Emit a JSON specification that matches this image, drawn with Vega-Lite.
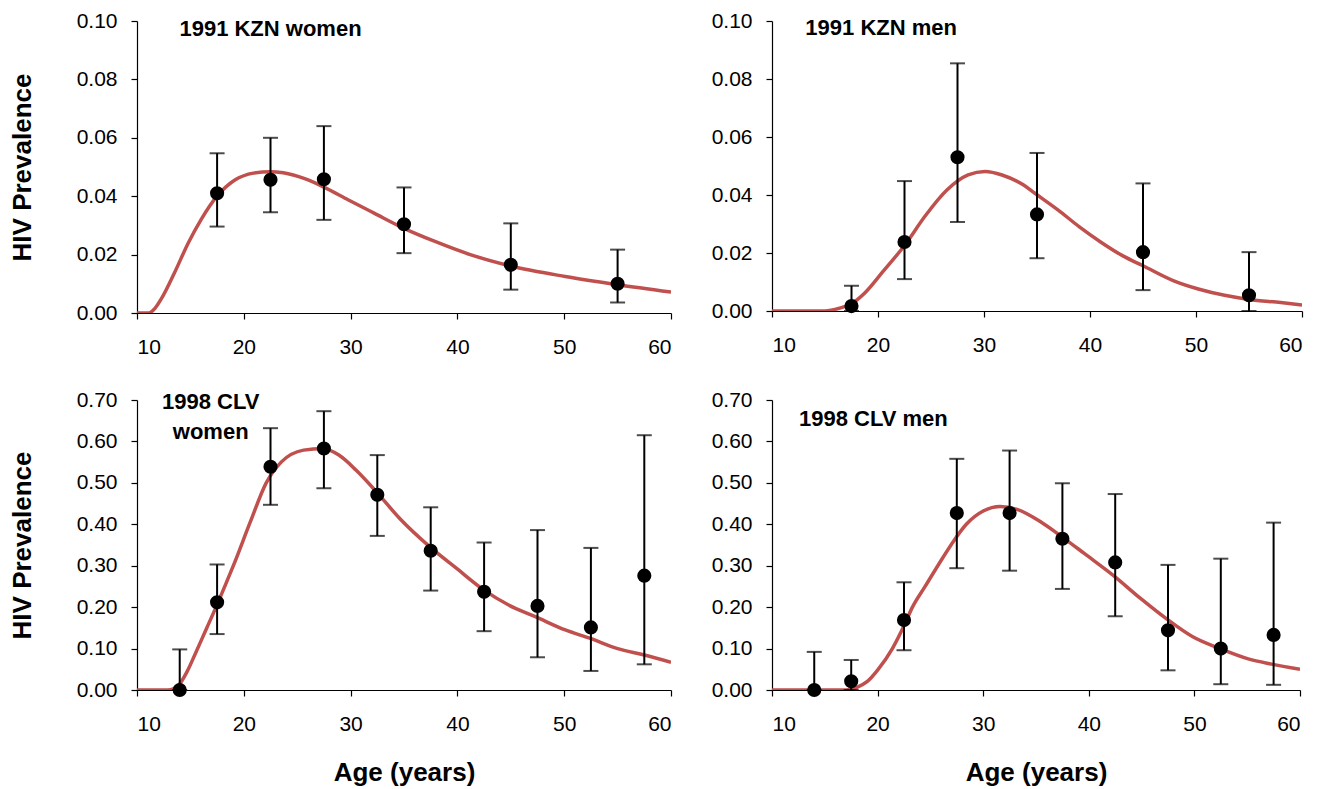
{
  "$schema": "https://vega.github.io/schema/vega-lite/v6.json",
  "padding": {"left": 9, "top": 10, "right": 5, "bottom": 3},
  "background": "white",
  "datasets": {
    "curve": [
      {"panel": "A", "age": 10, "prev": 0}, {"panel": "A", "age": 11.1, "prev": 0}, {"panel": "A", "age": 11.7, "prev": 0.0017}, {"panel": "A", "age": 12.3, "prev": 0.005}, {"panel": "A", "age": 13.5, "prev": 0.0137}, {"panel": "A", "age": 14.8, "prev": 0.024}, {"panel": "A", "age": 16, "prev": 0.032}, {"panel": "A", "age": 17.5, "prev": 0.04}, {"panel": "A", "age": 19.2, "prev": 0.0456}, {"panel": "A", "age": 20.9, "prev": 0.0479}, {"panel": "A", "age": 22.5, "prev": 0.0484}, {"panel": "A", "age": 23.7, "prev": 0.048}, {"panel": "A", "age": 25.7, "prev": 0.046}, {"panel": "A", "age": 27.4, "prev": 0.0433}, {"panel": "A", "age": 29.8, "prev": 0.0387}, {"panel": "A", "age": 32.2, "prev": 0.0342}, {"panel": "A", "age": 35, "prev": 0.029}, {"panel": "A", "age": 37.9, "prev": 0.0245}, {"panel": "A", "age": 41.2, "prev": 0.02}, {"panel": "A", "age": 45.1, "prev": 0.016}, {"panel": "A", "age": 50.1, "prev": 0.0125}, {"panel": "A", "age": 55, "prev": 0.0097}, {"panel": "A", "age": 60, "prev": 0.0072},
      {"panel": "B", "age": 10, "prev": 0}, {"panel": "B", "age": 15, "prev": 0}, {"panel": "B", "age": 16.4, "prev": 0.001}, {"panel": "B", "age": 17.4, "prev": 0.0023}, {"panel": "B", "age": 18.8, "prev": 0.0064}, {"panel": "B", "age": 20.4, "prev": 0.0133}, {"panel": "B", "age": 22.5, "prev": 0.0226}, {"panel": "B", "age": 24.5, "prev": 0.033}, {"panel": "B", "age": 26.5, "prev": 0.0417}, {"panel": "B", "age": 28.5, "prev": 0.0469}, {"panel": "B", "age": 30.1, "prev": 0.0481}, {"panel": "B", "age": 31.7, "prev": 0.0469}, {"panel": "B", "age": 33.7, "prev": 0.0435}, {"panel": "B", "age": 34.8, "prev": 0.0406}, {"panel": "B", "age": 37, "prev": 0.0348}, {"panel": "B", "age": 39, "prev": 0.029}, {"panel": "B", "age": 41, "prev": 0.0238}, {"panel": "B", "age": 43.1, "prev": 0.019}, {"panel": "B", "age": 45, "prev": 0.0156}, {"panel": "B", "age": 47.9, "prev": 0.0104}, {"panel": "B", "age": 50.3, "prev": 0.0075}, {"panel": "B", "age": 52.7, "prev": 0.0054}, {"panel": "B", "age": 55, "prev": 0.004}, {"panel": "B", "age": 58, "prev": 0.0029}, {"panel": "B", "age": 60, "prev": 0.0021},
      {"panel": "C", "age": 10, "prev": 0}, {"panel": "C", "age": 12.9, "prev": 0}, {"panel": "C", "age": 13.9, "prev": 0.012}, {"panel": "C", "age": 14.7, "prev": 0.045}, {"panel": "C", "age": 15.5, "prev": 0.09}, {"panel": "C", "age": 16.5, "prev": 0.148}, {"panel": "C", "age": 17.4, "prev": 0.2}, {"panel": "C", "age": 18.3, "prev": 0.255}, {"panel": "C", "age": 19.1, "prev": 0.305}, {"panel": "C", "age": 20.6, "prev": 0.405}, {"panel": "C", "age": 22.1, "prev": 0.5}, {"panel": "C", "age": 23.5, "prev": 0.55}, {"panel": "C", "age": 25.6, "prev": 0.579}, {"panel": "C", "age": 27.4, "prev": 0.583}, {"panel": "C", "age": 28.9, "prev": 0.567}, {"panel": "C", "age": 30.5, "prev": 0.531}, {"panel": "C", "age": 32.4, "prev": 0.479}, {"panel": "C", "age": 34.6, "prev": 0.414}, {"panel": "C", "age": 37.4, "prev": 0.346}, {"panel": "C", "age": 39.9, "prev": 0.294}, {"panel": "C", "age": 42.5, "prev": 0.241}, {"panel": "C", "age": 44.8, "prev": 0.205}, {"panel": "C", "age": 47.3, "prev": 0.177}, {"panel": "C", "age": 50.1, "prev": 0.145}, {"panel": "C", "age": 52.4, "prev": 0.125}, {"panel": "C", "age": 55, "prev": 0.1}, {"panel": "C", "age": 57.4, "prev": 0.085}, {"panel": "C", "age": 60, "prev": 0.067},
      {"panel": "D", "age": 10, "prev": 0}, {"panel": "D", "age": 17, "prev": 0}, {"panel": "D", "age": 18, "prev": 0.006}, {"panel": "D", "age": 19, "prev": 0.02}, {"panel": "D", "age": 20, "prev": 0.048}, {"panel": "D", "age": 21.4, "prev": 0.1}, {"panel": "D", "age": 22.5, "prev": 0.155}, {"panel": "D", "age": 23.3, "prev": 0.2}, {"panel": "D", "age": 24.5, "prev": 0.25}, {"panel": "D", "age": 25.7, "prev": 0.3}, {"panel": "D", "age": 27, "prev": 0.352}, {"panel": "D", "age": 28.4, "prev": 0.4}, {"panel": "D", "age": 30, "prev": 0.432}, {"panel": "D", "age": 31.6, "prev": 0.443}, {"panel": "D", "age": 33.2, "prev": 0.436}, {"panel": "D", "age": 35.5, "prev": 0.405}, {"panel": "D", "age": 37.4, "prev": 0.371}, {"panel": "D", "age": 39.6, "prev": 0.329}, {"panel": "D", "age": 42.4, "prev": 0.275}, {"panel": "D", "age": 44.9, "prev": 0.221}, {"panel": "D", "age": 47.4, "prev": 0.171}, {"panel": "D", "age": 49.8, "prev": 0.129}, {"panel": "D", "age": 52.4, "prev": 0.1}, {"panel": "D", "age": 55.1, "prev": 0.075}, {"panel": "D", "age": 57.3, "prev": 0.0625}, {"panel": "D", "age": 60, "prev": 0.05}
    ],
    "pts": [
      {"panel": "A", "age": 17.5, "prev": 0.041, "lo": 0.0296, "hi": 0.0547},
      {"panel": "A", "age": 22.5, "prev": 0.0456, "lo": 0.0345, "hi": 0.06},
      {"panel": "A", "age": 27.5, "prev": 0.0458, "lo": 0.0319, "hi": 0.064},
      {"panel": "A", "age": 35, "prev": 0.0304, "lo": 0.0205, "hi": 0.043},
      {"panel": "A", "age": 45, "prev": 0.0165, "lo": 0.008, "hi": 0.0307},
      {"panel": "A", "age": 55, "prev": 0.01, "lo": 0.0036, "hi": 0.0217},
      {"panel": "B", "age": 17.5, "prev": 0.0017, "lo": 0, "hi": 0.0087},
      {"panel": "B", "age": 22.5, "prev": 0.0238, "lo": 0.011, "hi": 0.0448},
      {"panel": "B", "age": 27.5, "prev": 0.053, "lo": 0.0307, "hi": 0.0854},
      {"panel": "B", "age": 35, "prev": 0.0333, "lo": 0.0182, "hi": 0.0545},
      {"panel": "B", "age": 45, "prev": 0.0203, "lo": 0.0072, "hi": 0.044},
      {"panel": "B", "age": 55, "prev": 0.0054, "lo": 0, "hi": 0.0203},
      {"panel": "C", "age": 14, "prev": 0, "lo": 0, "hi": 0.098},
      {"panel": "C", "age": 17.5, "prev": 0.2116, "lo": 0.135, "hi": 0.303},
      {"panel": "C", "age": 22.5, "prev": 0.539, "lo": 0.447, "hi": 0.632},
      {"panel": "C", "age": 27.5, "prev": 0.583, "lo": 0.487, "hi": 0.673},
      {"panel": "C", "age": 32.5, "prev": 0.471, "lo": 0.372, "hi": 0.567},
      {"panel": "C", "age": 37.5, "prev": 0.336, "lo": 0.24, "hi": 0.441},
      {"panel": "C", "age": 42.5, "prev": 0.237, "lo": 0.142, "hi": 0.356},
      {"panel": "C", "age": 47.5, "prev": 0.203, "lo": 0.079, "hi": 0.386},
      {"panel": "C", "age": 52.5, "prev": 0.151, "lo": 0.046, "hi": 0.343},
      {"panel": "C", "age": 57.5, "prev": 0.276, "lo": 0.062, "hi": 0.615},
      {"panel": "D", "age": 14, "prev": 0, "lo": 0, "hi": 0.092},
      {"panel": "D", "age": 17.5, "prev": 0.021, "lo": 0, "hi": 0.0725},
      {"panel": "D", "age": 22.5, "prev": 0.169, "lo": 0.096, "hi": 0.26},
      {"panel": "D", "age": 27.5, "prev": 0.427, "lo": 0.294, "hi": 0.558},
      {"panel": "D", "age": 32.5, "prev": 0.427, "lo": 0.288, "hi": 0.578},
      {"panel": "D", "age": 37.5, "prev": 0.365, "lo": 0.244, "hi": 0.499},
      {"panel": "D", "age": 42.5, "prev": 0.308, "lo": 0.178, "hi": 0.473},
      {"panel": "D", "age": 47.5, "prev": 0.144, "lo": 0.0475, "hi": 0.302},
      {"panel": "D", "age": 52.5, "prev": 0.1, "lo": 0.014, "hi": 0.317},
      {"panel": "D", "age": 57.5, "prev": 0.133, "lo": 0.0125, "hi": 0.404}
    ],
    "lbl": [
      {"panel": "A", "age": 22.5, "prev": 0.0974, "text": "1991 KZN women"},
      {"panel": "B", "age": 20.3, "prev": 0.0976, "text": "1991 KZN men"},
      {"panel": "C", "age": 16.9, "prev": 0.696, "text": "1998 CLV"},
      {"panel": "C", "age": 16.9, "prev": 0.623, "text": "women"},
      {"panel": "D", "age": 19.6, "prev": 0.655, "text": "1998 CLV men"}
    ]
  },
  "vconcat": [
    {
      "spacing": 39,
      "hconcat": [
        {
          "width": 534, "height": 292,
          "layer": [
            {"data": {"name": "curve"}, "transform": [{"filter": "datum.panel === 'A'"}],
             "mark": {"type": "line", "color": "#c0504d", "strokeWidth": 3.5, "interpolate": "monotone", "clip": true},
             "encoding": {
               "x": {"field": "age", "type": "quantitative", "scale": {"domain": [10, 60], "nice": false, "zero": false}, "axis": {"values": [10, 20, 30, 40, 50, 60], "title": null}},
               "y": {"field": "prev", "type": "quantitative", "scale": {"domain": [0, 0.1], "nice": false}, "axis": {"values": [0, 0.02, 0.04, 0.06, 0.08, 0.1], "format": ".2f", "title": "HIV Prevalence"}}}},
            {"data": {"name": "pts"}, "transform": [{"filter": "datum.panel === 'A'"}],
             "mark": {"type": "rule", "color": "black", "strokeWidth": 2},
             "encoding": {"x": {"field": "age", "type": "quantitative"}, "y": {"field": "lo", "type": "quantitative", "title": "HIV Prevalence"}, "y2": {"field": "hi"}}},
            {"data": {"name": "pts"}, "transform": [{"filter": "datum.panel === 'A'"}],
             "mark": {"type": "tick", "orient": "horizontal", "color": "black", "size": 15, "thickness": 2},
             "encoding": {"x": {"field": "age", "type": "quantitative"}, "y": {"field": "hi", "type": "quantitative", "title": "HIV Prevalence"}}},
            {"data": {"name": "pts"}, "transform": [{"filter": "datum.panel === 'A'"}],
             "mark": {"type": "tick", "orient": "horizontal", "color": "black", "size": 15, "thickness": 2},
             "encoding": {"x": {"field": "age", "type": "quantitative"}, "y": {"field": "lo", "type": "quantitative", "title": "HIV Prevalence"}}},
            {"data": {"name": "pts"}, "transform": [{"filter": "datum.panel === 'A'"}],
             "mark": {"type": "point", "filled": true, "color": "black", "opacity": 1, "size": 200},
             "encoding": {"x": {"field": "age", "type": "quantitative"}, "y": {"field": "prev", "type": "quantitative", "title": "HIV Prevalence"}}},
            {"data": {"name": "lbl"}, "transform": [{"filter": "datum.panel === 'A'"}],
             "mark": {"type": "text", "fontWeight": "bold", "fontSize": 22, "align": "center", "baseline": "middle", "color": "black"},
             "encoding": {"x": {"field": "age", "type": "quantitative"}, "y": {"field": "prev", "type": "quantitative", "title": "HIV Prevalence"}, "text": {"field": "text"}}}
          ]
        },
        {
          "width": 530, "height": 290,
          "layer": [
            {"data": {"name": "curve"}, "transform": [{"filter": "datum.panel === 'B'"}],
             "mark": {"type": "line", "color": "#c0504d", "strokeWidth": 3.5, "interpolate": "monotone", "clip": true},
             "encoding": {
               "x": {"field": "age", "type": "quantitative", "scale": {"domain": [10, 60], "nice": false, "zero": false}, "axis": {"values": [10, 20, 30, 40, 50, 60], "title": null}},
               "y": {"field": "prev", "type": "quantitative", "scale": {"domain": [0, 0.1], "nice": false}, "axis": {"values": [0, 0.02, 0.04, 0.06, 0.08, 0.1], "format": ".2f", "title": null}}}},
            {"data": {"name": "pts"}, "transform": [{"filter": "datum.panel === 'B'"}],
             "mark": {"type": "rule", "color": "black", "strokeWidth": 2},
             "encoding": {"x": {"field": "age", "type": "quantitative"}, "y": {"field": "lo", "type": "quantitative", "title": null}, "y2": {"field": "hi"}}},
            {"data": {"name": "pts"}, "transform": [{"filter": "datum.panel === 'B'"}],
             "mark": {"type": "tick", "orient": "horizontal", "color": "black", "size": 15, "thickness": 2},
             "encoding": {"x": {"field": "age", "type": "quantitative"}, "y": {"field": "hi", "type": "quantitative", "title": null}}},
            {"data": {"name": "pts"}, "transform": [{"filter": "datum.panel === 'B'"}],
             "mark": {"type": "tick", "orient": "horizontal", "color": "black", "size": 15, "thickness": 2},
             "encoding": {"x": {"field": "age", "type": "quantitative"}, "y": {"field": "lo", "type": "quantitative", "title": null}}},
            {"data": {"name": "pts"}, "transform": [{"filter": "datum.panel === 'B'"}],
             "mark": {"type": "point", "filled": true, "color": "black", "opacity": 1, "size": 200},
             "encoding": {"x": {"field": "age", "type": "quantitative"}, "y": {"field": "prev", "type": "quantitative", "title": null}}},
            {"data": {"name": "lbl"}, "transform": [{"filter": "datum.panel === 'B'"}],
             "mark": {"type": "text", "fontWeight": "bold", "fontSize": 22, "align": "center", "baseline": "middle", "color": "black"},
             "encoding": {"x": {"field": "age", "type": "quantitative"}, "y": {"field": "prev", "type": "quantitative", "title": null}, "text": {"field": "text"}}}
          ]
        }
      ]
    },
    {
      "spacing": 39,
      "hconcat": [
        {
          "width": 534, "height": 290,
          "layer": [
            {"data": {"name": "curve"}, "transform": [{"filter": "datum.panel === 'C'"}],
             "mark": {"type": "line", "color": "#c0504d", "strokeWidth": 3.5, "interpolate": "monotone", "clip": true},
             "encoding": {
               "x": {"field": "age", "type": "quantitative", "scale": {"domain": [10, 60], "nice": false, "zero": false}, "axis": {"values": [10, 20, 30, 40, 50, 60], "title": "Age (years)"}},
               "y": {"field": "prev", "type": "quantitative", "scale": {"domain": [0, 0.7], "nice": false}, "axis": {"values": [0, 0.1, 0.2, 0.3, 0.4, 0.5, 0.6, 0.7], "format": ".2f", "title": "HIV Prevalence"}}}},
            {"data": {"name": "pts"}, "transform": [{"filter": "datum.panel === 'C'"}],
             "mark": {"type": "rule", "color": "black", "strokeWidth": 2},
             "encoding": {"x": {"field": "age", "type": "quantitative", "title": "Age (years)"}, "y": {"field": "lo", "type": "quantitative", "title": "HIV Prevalence"}, "y2": {"field": "hi"}}},
            {"data": {"name": "pts"}, "transform": [{"filter": "datum.panel === 'C'"}],
             "mark": {"type": "tick", "orient": "horizontal", "color": "black", "size": 15, "thickness": 2},
             "encoding": {"x": {"field": "age", "type": "quantitative", "title": "Age (years)"}, "y": {"field": "hi", "type": "quantitative", "title": "HIV Prevalence"}}},
            {"data": {"name": "pts"}, "transform": [{"filter": "datum.panel === 'C'"}],
             "mark": {"type": "tick", "orient": "horizontal", "color": "black", "size": 15, "thickness": 2},
             "encoding": {"x": {"field": "age", "type": "quantitative", "title": "Age (years)"}, "y": {"field": "lo", "type": "quantitative", "title": "HIV Prevalence"}}},
            {"data": {"name": "pts"}, "transform": [{"filter": "datum.panel === 'C'"}],
             "mark": {"type": "point", "filled": true, "color": "black", "opacity": 1, "size": 200},
             "encoding": {"x": {"field": "age", "type": "quantitative", "title": "Age (years)"}, "y": {"field": "prev", "type": "quantitative", "title": "HIV Prevalence"}}},
            {"data": {"name": "lbl"}, "transform": [{"filter": "datum.panel === 'C'"}],
             "mark": {"type": "text", "fontWeight": "bold", "fontSize": 22, "align": "center", "baseline": "middle", "color": "black"},
             "encoding": {"x": {"field": "age", "type": "quantitative", "title": "Age (years)"}, "y": {"field": "prev", "type": "quantitative", "title": "HIV Prevalence"}, "text": {"field": "text"}}}
          ]
        },
        {
          "width": 528, "height": 290,
          "layer": [
            {"data": {"name": "curve"}, "transform": [{"filter": "datum.panel === 'D'"}],
             "mark": {"type": "line", "color": "#c0504d", "strokeWidth": 3.5, "interpolate": "monotone", "clip": true},
             "encoding": {
               "x": {"field": "age", "type": "quantitative", "scale": {"domain": [10, 60], "nice": false, "zero": false}, "axis": {"values": [10, 20, 30, 40, 50, 60], "title": "Age (years)"}},
               "y": {"field": "prev", "type": "quantitative", "scale": {"domain": [0, 0.7], "nice": false}, "axis": {"values": [0, 0.1, 0.2, 0.3, 0.4, 0.5, 0.6, 0.7], "format": ".2f", "title": null}}}},
            {"data": {"name": "pts"}, "transform": [{"filter": "datum.panel === 'D'"}],
             "mark": {"type": "rule", "color": "black", "strokeWidth": 2},
             "encoding": {"x": {"field": "age", "type": "quantitative", "title": "Age (years)"}, "y": {"field": "lo", "type": "quantitative", "title": null}, "y2": {"field": "hi"}}},
            {"data": {"name": "pts"}, "transform": [{"filter": "datum.panel === 'D'"}],
             "mark": {"type": "tick", "orient": "horizontal", "color": "black", "size": 15, "thickness": 2},
             "encoding": {"x": {"field": "age", "type": "quantitative", "title": "Age (years)"}, "y": {"field": "hi", "type": "quantitative", "title": null}}},
            {"data": {"name": "pts"}, "transform": [{"filter": "datum.panel === 'D'"}],
             "mark": {"type": "tick", "orient": "horizontal", "color": "black", "size": 15, "thickness": 2},
             "encoding": {"x": {"field": "age", "type": "quantitative", "title": "Age (years)"}, "y": {"field": "lo", "type": "quantitative", "title": null}}},
            {"data": {"name": "pts"}, "transform": [{"filter": "datum.panel === 'D'"}],
             "mark": {"type": "point", "filled": true, "color": "black", "opacity": 1, "size": 200},
             "encoding": {"x": {"field": "age", "type": "quantitative", "title": "Age (years)"}, "y": {"field": "prev", "type": "quantitative", "title": null}}},
            {"data": {"name": "lbl"}, "transform": [{"filter": "datum.panel === 'D'"}],
             "mark": {"type": "text", "fontWeight": "bold", "fontSize": 22, "align": "center", "baseline": "middle", "color": "black"},
             "encoding": {"x": {"field": "age", "type": "quantitative", "title": "Age (years)"}, "y": {"field": "prev", "type": "quantitative", "title": null}, "text": {"field": "text"}}}
          ]
        }
      ]
    }
  ],
  "spacing": 32,
  "config": {
    "font": "Liberation Sans",
    "view": {"stroke": null},
    "axis": {
      "grid": false, "domainColor": "black", "tickColor": "black", "labelColor": "black", "titleColor": "black",
      "labelFontSize": 21, "titleFontSize": 26, "titleFontWeight": "bold", "tickSize": 6, "domainWidth": 1.2, "tickWidth": 1.2,
      "labelFont": "Liberation Sans", "titleFont": "Liberation Sans", "labelOverlap": false
    },
    "axisX": {"labelPadding": 17, "titlePadding": 25},
    "axisY": {"labelPadding": 14, "titlePadding": 41}
  }
}
